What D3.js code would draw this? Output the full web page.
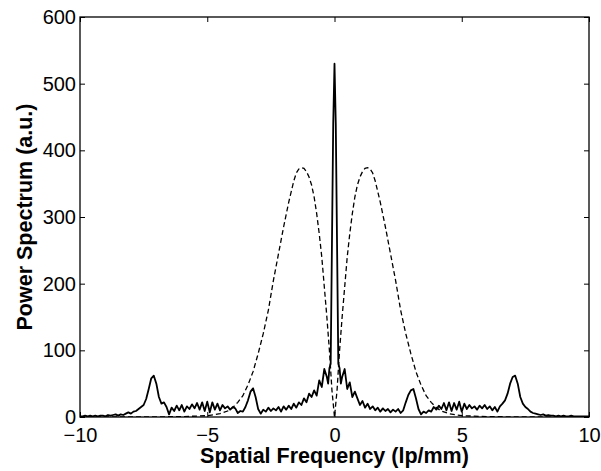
<!DOCTYPE html>
<html>
<head>
<meta charset="utf-8">
<script src="https://cdn.jsdelivr.net/npm/d3@7"></script>
<style>
  body { margin: 0; background: #fff; }
  text { font-family: "Liberation Sans", Arial, sans-serif; }
</style>
</head>
<body>
<svg id="chart"></svg>
<script>
// solid line: measured power spectrum
const solidX = [
  -10.0, -9.9, -9.8, -9.7, -9.6, -9.5, -9.4, -9.3, -9.2, -9.1,
  -9.0, -8.9, -8.8, -8.7, -8.6, -8.5, -8.4, -8.3, -8.2, -8.1,
  -8.0, -7.9, -7.8, -7.7, -7.6, -7.5, -7.4, -7.3, -7.2, -7.1,
  -7.0, -6.9, -6.8, -6.7, -6.6, -6.5, -6.4, -6.3, -6.2, -6.1,
  -6.0, -5.9, -5.8, -5.7, -5.6, -5.5, -5.4, -5.3, -5.2, -5.1,
  -5.0, -4.9, -4.8, -4.7, -4.6, -4.5, -4.4, -4.3, -4.2, -4.1,
  -4.0, -3.9, -3.8, -3.7, -3.6, -3.5, -3.4, -3.3, -3.2, -3.1,
  -3.0, -2.9, -2.8, -2.7, -2.6, -2.5, -2.4, -2.3, -2.2, -2.1,
  -2.0, -1.9, -1.8, -1.7, -1.6, -1.5, -1.4, -1.3, -1.2, -1.1,
  -1.0, -0.9, -0.8, -0.7, -0.6, -0.5, -0.4, -0.3, -0.25, -0.2,
  -0.15, -0.1, -0.05, 0, 0.05, 0.1, 0.15, 0.2, 0.25, 0.3,
  0.4, 0.5, 0.6, 0.7, 0.8, 0.9, 1.0, 1.1, 1.2, 1.3,
  1.4, 1.5, 1.6, 1.7, 1.8, 1.9, 2.0, 2.1, 2.2, 2.3,
  2.4, 2.5, 2.6, 2.7, 2.8, 2.9, 3.0, 3.1, 3.2, 3.3,
  3.4, 3.5, 3.6, 3.7, 3.8, 3.9, 4.0, 4.1, 4.2, 4.3,
  4.4, 4.5, 4.6, 4.7, 4.8, 4.9, 5.0, 5.1, 5.2, 5.3,
  5.4, 5.5, 5.6, 5.7, 5.8, 5.9, 6.0, 6.1, 6.2, 6.3,
  6.4, 6.5, 6.6, 6.7, 6.8, 6.9, 7.0, 7.1, 7.2, 7.3,
  7.4, 7.5, 7.6, 7.7, 7.8, 7.9, 8.0, 8.1, 8.2, 8.3,
  8.4, 8.5, 8.6, 8.7, 8.8, 8.9, 9.0, 9.1, 9.2, 9.3,
  9.4, 9.5, 9.6, 9.7, 9.8, 9.9, 10.0
];
const solidY = [
  1, 1, 2, 1, 2, 1, 2, 1, 2, 2,
  1, 3, 2, 3, 4, 2, 4, 3, 5, 7,
  5, 8, 9, 12, 15, 18, 27, 42, 58, 62,
  50, 30, 20, 22, 15, 4, 14, 9, 17, 10,
  18, 8, 16, 12, 19, 13, 21, 11, 22, 9,
  23, 7, 22, 11, 20, 10, 18, 13, 16, 11,
  15, 13, 6, 9, 8, 15, 25, 38, 43, 30,
  12, 5, 11, 8, 14, 9, 13, 10, 15, 8,
  16, 11, 17, 12, 20, 14, 22, 18, 28, 22,
  35, 30, 40, 32, 55, 45, 72, 60, 50, 73,
  80, 260, 440, 530, 440, 260, 80, 73, 50, 60,
  72, 42, 52, 30, 38, 28, 18, 24, 14, 20,
  12, 16, 10, 14, 8, 13, 9, 12, 7, 11,
  8, 12, 6, 10, 22, 33, 40, 42, 28, 12,
  4, 8, 6, 10, 8, 15, 11, 17, 12, 21,
  10, 22, 9, 21, 11, 23, 8, 20, 12, 18,
  13, 16, 11, 17, 13, 18, 12, 16, 10, 15,
  8, 16, 20, 25, 35, 50, 60, 62, 50, 30,
  20, 15, 12, 8, 6, 5, 4, 3, 4, 2,
  3, 2, 2, 1, 2, 1, 2, 1, 1, 2,
  1, 1, 1, 1, 1, 1, 1
];

// dashed line: filter response
const dashX = [
  -10, -8, -6, -5, -4.5, -4.2, -4.0, -3.8, -3.6, -3.4, -3.2, -3.0, -2.8, -2.6,
  -2.4, -2.2, -2.0, -1.8, -1.6, -1.5, -1.4, -1.3, -1.2, -1.1, -1.0, -0.9,
  -0.8, -0.7, -0.6, -0.5, -0.4, -0.3, -0.2, -0.1, 0,
  0.1, 0.2, 0.3, 0.4, 0.5, 0.6, 0.7, 0.8, 0.9, 1.0, 1.1, 1.2, 1.3, 1.4,
  1.5, 1.6, 1.8, 2.0, 2.2, 2.4, 2.6, 2.8, 3.0, 3.2, 3.4, 3.6, 3.8, 4.0,
  4.2, 4.5, 5, 6, 8, 10
];
const dashY = [
  0, 0, 0.5, 2, 5, 9, 14, 22, 32, 48, 68, 95, 125, 160,
  205, 245, 285, 322, 354, 366, 372, 374, 373, 368, 360, 348,
  330, 305, 275, 240, 195, 150, 100, 40, 0,
  40, 100, 150, 195, 240, 275, 305, 330, 348, 360, 368, 373, 374, 372,
  366, 354, 322, 285, 245, 205, 160, 125, 95, 68, 48, 32, 22, 14,
  9, 5, 2, 0.5, 0, 0
];

const xTicks = [-10, -5, 0, 5, 10];
const yTicks = [0, 100, 200, 300, 400, 500, 600];

const W = 601, H = 471;
const margin = { top: 17, right: 12, bottom: 54, left: 80 };
const iw = W - margin.left - margin.right;
const ih = H - margin.top - margin.bottom;

const svg = d3.select("#chart").attr("width", W).attr("height", H);
const g = svg.append("g").attr("transform", `translate(${margin.left},${margin.top})`);

const x = d3.scaleLinear().domain([-10, 10]).range([0, iw]);
const y = d3.scaleLinear().domain([0, 600]).range([ih, 0]);

const line = d3.line().x(d => x(d[0])).y(d => y(d[1]));

g.append("clipPath").attr("id", "clip")
  .append("rect").attr("width", iw).attr("height", ih);

g.append("path")
  .datum(dashX.map((v, i) => [v, dashY[i]]))
  .attr("clip-path", "url(#clip)")
  .attr("fill", "none")
  .attr("stroke", "#000")
  .attr("stroke-width", 1.3)
  .attr("stroke-dasharray", "5,3")
  .attr("d", line);

g.append("path")
  .datum(solidX.map((v, i) => [v, solidY[i]]))
  .attr("clip-path", "url(#clip)")
  .attr("fill", "none")
  .attr("stroke", "#000")
  .attr("stroke-width", 1.8)
  .attr("stroke-linejoin", "round")
  .attr("d", line);

// axes, MATLAB style: ticks inside, mirrored on top/right
const tl = 5;
const tickStyle = sel => {
  sel.select(".domain").remove();
  sel.selectAll("line").attr("stroke", "#000").attr("stroke-width", 1);
  sel.selectAll("text").attr("fill", "#000").style("font-size", "20px");
};

g.append("g").attr("transform", `translate(0,${ih})`)
  .call(d3.axisBottom(x).tickValues(xTicks).tickSize(-tl).tickPadding(11).tickFormat(d3.format("d")))
  .call(tickStyle);

g.append("g")
  .call(d3.axisTop(x).tickValues(xTicks).tickSize(-tl).tickFormat(""))
  .call(tickStyle);

g.append("g")
  .call(d3.axisLeft(y).tickValues(yTicks).tickSize(-tl).tickPadding(4))
  .call(tickStyle);

g.append("g").attr("transform", `translate(${iw},0)`)
  .call(d3.axisRight(y).tickValues(yTicks).tickSize(-tl).tickFormat(""))
  .call(tickStyle);

g.append("rect")
  .attr("width", iw).attr("height", ih)
  .attr("fill", "none").attr("stroke", "#000").attr("stroke-width", 1.3);

svg.append("text")
  .attr("x", margin.left + iw / 2).attr("y", 463)
  .attr("text-anchor", "middle")
  .style("font-size", "21.5px").style("font-weight", "bold")
  .text("Spatial Frequency (lp/mm)");

svg.append("text")
  .attr("transform", `translate(32,${margin.top + ih / 2}) rotate(-90)`)
  .attr("text-anchor", "middle")
  .style("font-size", "21.5px").style("font-weight", "bold")
  .text("Power Spectrum (a.u.)");
</script>
</body>
</html>
